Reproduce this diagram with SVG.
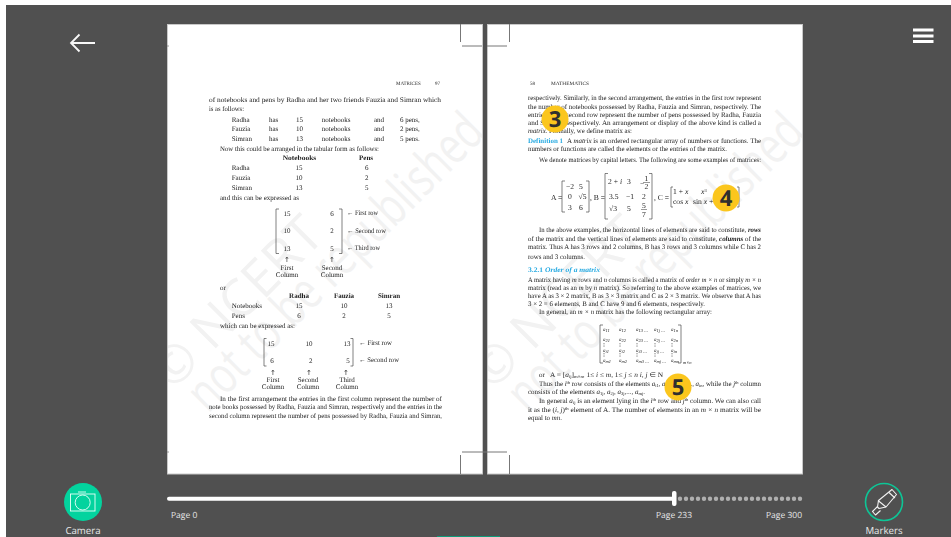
<svg xmlns="http://www.w3.org/2000/svg" width="951" height="537" viewBox="0 0 951 537">
<style>
text{text-rendering:geometricPrecision}
.t{font-family:"Liberation Serif",serif;font-size:7px;fill:#1c1c1c}
.mx{font-size:7.600px}
.b{font-weight:bold}
.i{font-style:italic}
.m{text-anchor:middle}
.h{font-family:"Liberation Serif",serif;font-weight:bold;font-size:7px;fill:#29abe2}
.s{font-size:4.500px}
.sm{font-size:5px}
.ar{font-family:"DejaVu Sans",sans-serif;font-size:7px}
.wm{font-family:"Open Sans","Liberation Sans",sans-serif;font-size:52px;fill:#f2f2f2}
.ui{font-family:"Open Sans","Liberation Sans",sans-serif;fill:#e8e8e8}
.num{font-family:"Open Sans","Noto Sans",sans-serif;font-weight:700;font-size:22px;fill:#2f2f2f;text-anchor:middle}
.badge{fill:#fbc61d}
.br{fill:none;stroke:#333;stroke-width:.6}
.mark{fill:none;stroke:#777;stroke-width:1}
.page{fill:#fff;stroke:#c8c8c8;stroke-width:1}
.dv{stroke:#444;stroke-width:.8;stroke-dasharray:.8 .9;fill:none}
</style>
<defs>
<filter id="soft" x="-5%" y="-5%" width="110%" height="110%"><feGaussianBlur stdDeviation="0.33"/></filter>
<clipPath id="pl"><rect x="168" y="25" width="314" height="449"/></clipPath>
<clipPath id="pr"><rect x="488" y="25" width="314" height="449"/></clipPath>
</defs>
<rect width="951" height="537" fill="#fff"/>
<rect x="6" y="5" width="945" height="532" fill="#505050"/>

<g id="back"><path d="M95 43H71.500M79.500 34.500L71 43L79.500 51.500" fill="none" stroke="#f8f8f8" stroke-width="1.800"/></g>
<g id="menu" fill="#fff"><rect x="913" y="28.500" width="20.500" height="3"/><rect x="913" y="34.500" width="20.500" height="3"/><rect x="913" y="40" width="20.500" height="3"/></g>

<g id="left-page">
<rect class="page" x="167.500" y="24.500" width="315" height="449.500"/>
<g clip-path="url(#pl)">
<text class="wm" transform="translate(172 392) rotate(-45)">© NCERT</text>
<text class="wm" transform="translate(208 414) rotate(-45)" textLength="395" lengthAdjust="spacingAndGlyphs">not to be republished</text>
</g>
<path class="mark" d="M460.500 24V42M462 46H482M462 452H487M460.500 455V474"/>
<path d="M167 46h2M167 452h2" stroke="#888" stroke-width=".8"/>
<g class="t" filter="url(#soft)">
<text class="sm" x="396" y="85">MATRICES</text><text class="sm" x="435" y="85">97</text>
<text x="209" y="101.500" textLength="232" lengthAdjust="spacingAndGlyphs">of notebooks and pens by Radha and her two friends Fauzia and Simran which</text>
<text x="209" y="111" textLength="35" lengthAdjust="spacingAndGlyphs">is as follows:</text>
<text x="231.700" y="121.500">Radha</text><text x="269" y="121.500">has</text><text x="296" y="121.500">15</text><text x="321.700" y="121.500">notebooks</text><text x="374" y="121.500">and</text><text x="400" y="121.500">6 pens,</text>
<text x="231.700" y="131">Fauzia</text><text x="269" y="131">has</text><text x="296" y="131">10</text><text x="321.700" y="131">notebooks</text><text x="374" y="131">and</text><text x="400" y="131">2 pens,</text>
<text x="231.700" y="141">Simran</text><text x="269" y="141">has</text><text x="296" y="141">13</text><text x="321.700" y="141">notebooks</text><text x="374" y="141">and</text><text x="400" y="141">5 pens.</text>
<text x="220" y="150.500" textLength="159" lengthAdjust="spacingAndGlyphs">Now this could be arranged in the tabular form as follows:</text>
<text class="b" x="282.700" y="160" textLength="33.500" lengthAdjust="spacingAndGlyphs">Notebooks</text><text class="b" x="359" y="160">Pens</text>
<text x="231.700" y="170">Radha</text><text class="m" x="299" y="170">15</text><text class="m" x="366.700" y="170">6</text>
<text x="231.700" y="180">Fauzia</text><text class="m" x="299" y="180">10</text><text class="m" x="366.700" y="180">2</text>
<text x="231.700" y="189.500">Simran</text><text class="m" x="299" y="189.500">13</text><text class="m" x="366.700" y="189.500">5</text>
<text x="220" y="199.500" textLength="79" lengthAdjust="spacingAndGlyphs">and this can be expressed as</text>
<path class="br" d="M279 209h-3v44.500h3M339 209h3v44.500h-3M266.500 338.500h-2.500v27.500h2.500M350.500 338.500h2.500v27.500h-2.500"/>
<text class="m" x="287" y="215.500">15</text><text class="m" x="332" y="215.500">6</text><text x="347" y="215" textLength="31" lengthAdjust="spacingAndGlyphs">← First row</text>
<text class="m" x="287" y="233">10</text><text class="m" x="332" y="233">2</text><text x="347" y="232.700" textLength="39" lengthAdjust="spacingAndGlyphs">← Second row</text>
<text class="m" x="287" y="250.500">13</text><text class="m" x="332" y="250.500">5</text><text x="347" y="250" textLength="33" lengthAdjust="spacingAndGlyphs">← Third row</text>
<text class="m ar" x="287" y="262">↑</text><text class="m ar" x="332" y="262">↑</text>
<text class="m" x="287" y="269.600">First</text><text class="m" x="332" y="269.600">Second</text>
<text class="m" x="287" y="276.700">Column</text><text class="m" x="332" y="276.700">Column</text>
<text x="220" y="289.500">or</text>
<text class="b m" x="299" y="297.700">Radha</text><text class="b m" x="344" y="297.700">Fauzia</text><text class="b m" x="389" y="297.700">Simran</text>
<text x="231.700" y="307.700">Notebooks</text><text class="m" x="299" y="307.700">15</text><text class="m" x="344" y="307.700">10</text><text class="m" x="389" y="307.700">13</text>
<text x="231.700" y="317.700">Pens</text><text class="m" x="299" y="317.700">6</text><text class="m" x="344" y="317.700">2</text><text class="m" x="389" y="317.700">5</text>
<text x="220" y="327.700" textLength="75" lengthAdjust="spacingAndGlyphs">which can be expressed as:</text>
<text class="m" x="271" y="345.500">15</text><text class="m" x="309" y="345.500">10</text><text class="m" x="347" y="345.500">13</text><text x="359" y="344.500" textLength="33" lengthAdjust="spacingAndGlyphs">← First row</text>
<text class="m" x="272" y="363">6</text><text class="m" x="310.700" y="363">2</text><text class="m" x="348" y="363">5</text><text x="359" y="362" textLength="40" lengthAdjust="spacingAndGlyphs">← Second row</text>
<text class="m ar" x="273" y="374.500">↑</text><text class="m ar" x="309" y="374.500">↑</text><text class="m ar" x="346" y="374.500">↑</text>
<text class="m" x="273" y="381.700">First</text><text class="m" x="308" y="381.700">Second</text><text class="m" x="347" y="381.700">Third</text>
<text class="m" x="273" y="389">Column</text><text class="m" x="308" y="389">Column</text><text class="m" x="347" y="389">Column</text>
<text x="220" y="400.700" textLength="222" lengthAdjust="spacingAndGlyphs">In the first arrangement the entries in the first column represent the number of</text>
<text x="209" y="409.300" textLength="233" lengthAdjust="spacingAndGlyphs">note books possessed by Radha, Fauzia and Simran, respectively and the entries in the</text>
<text x="209" y="417.700" textLength="233" lengthAdjust="spacingAndGlyphs">second column represent the number of pens possessed by Radha, Fauzia and Simran,</text>
</g>
</g>

<g id="right-page">
<rect class="page" x="487.500" y="24.500" width="315" height="449.500"/>
<g clip-path="url(#pr)">
<text class="wm" transform="translate(492 392) rotate(-45)">© NCERT</text>
<text class="wm" transform="translate(528 414) rotate(-45)" textLength="395" lengthAdjust="spacingAndGlyphs">not to be republished</text>
</g>
<path class="mark" d="M509.500 24V42M487 46H507M487 452H507M509.500 455V474"/>
<g class="t" filter="url(#soft)">
<text class="sm" x="530" y="85">58</text><text class="sm" x="551" y="85" textLength="38" lengthAdjust="spacingAndGlyphs">MATHEMATICS</text>
<text x="528" y="100.300" textLength="233" lengthAdjust="spacingAndGlyphs">respectively. Similarly, in the second arrangement, the entries in the first row represent</text>
<text x="528" y="108.500" textLength="233" lengthAdjust="spacingAndGlyphs">the number of notebooks possessed by Radha, Fauzia and Simran, respectively. The</text>
<text x="528" y="116.700" textLength="233" lengthAdjust="spacingAndGlyphs">entries in the second row represent the number of pens possessed by Radha, Fauzia</text>
<text x="528" y="125" textLength="233" lengthAdjust="spacingAndGlyphs">and Simran, respectively. An arrangement or display of the above kind is called a</text>
<text x="528" y="133" textLength="104" lengthAdjust="spacingAndGlyphs"><tspan class="i">matrix</tspan>. Formally, we define matrix as:</text>
<text class="h" x="528" y="142.700" textLength="35" lengthAdjust="spacingAndGlyphs">Definition 1</text>
<text x="567" y="142.700" textLength="194" lengthAdjust="spacingAndGlyphs">A <tspan class="i">matrix</tspan> is an ordered rectangular array of numbers or functions. The</text>
<text x="528" y="151" textLength="199" lengthAdjust="spacingAndGlyphs">numbers or functions are called the elements or the entries of the matrix.</text>
<text x="539" y="161.700" textLength="222" lengthAdjust="spacingAndGlyphs">We denote matrices by capital letters. The following are some examples of matrices:</text>

<g class="mx">
<text x="551" y="199.500">A =</text>
<path class="br" d="M565 181h-3v31h3M586 181h3v31h-3"/>
<text class="m" x="570" y="188.500">−2</text><text class="m" x="581" y="188.500">5</text>
<text class="m" x="570" y="199">0</text><text class="m" x="582.500" y="199">√5</text>
<text class="m" x="570" y="210">3</text><text class="m" x="581" y="210">6</text>
<text x="590" y="199.500">, B =</text>
<path class="br" d="M608 173.500h-3v45.500h3M649 173.500h3v45.500h-3"/>
<text x="608" y="184">2 + <tspan class="i">i</tspan></text><text class="m" x="629" y="184">3</text><text x="640" y="185.500">−</text><text class="m" x="646.500" y="180.500">1</text><path d="M643 182.500h7" stroke="#333" stroke-width=".5"/><text class="m" x="646.500" y="189">2</text>
<text x="609" y="199">3.5</text><text class="m" x="630" y="199">−1</text><text class="m" x="644" y="199">2</text>
<text x="609" y="211">√3</text><text class="m" x="629" y="211">5</text><text class="m" x="644" y="208">5</text><path d="M641 209.500h6" stroke="#333" stroke-width=".5"/><text class="m" x="644" y="216.500">7</text>
<text x="654" y="199.500">, C =</text>
<path class="br" d="M673 187h-2v20h2M737 187h2v20h-2"/>
<text x="673" y="193.500">1 + <tspan class="i">x</tspan></text><text x="701" y="193.500"><tspan class="i">x</tspan><tspan class="s" dy="-2">3</tspan></text>
<text x="673" y="203.500">cos <tspan class="i">x</tspan></text><text x="693" y="203.500">sin <tspan class="i">x</tspan> + 1</text>
</g>

<text x="539" y="232.300" textLength="222" lengthAdjust="spacingAndGlyphs">In the above examples, the horizontal lines of elements are said to constitute, <tspan class="b i">rows</tspan></text>
<text x="528" y="240.700" textLength="233" lengthAdjust="spacingAndGlyphs">of the matrix and the vertical lines of elements are said to constitute, <tspan class="b i">columns</tspan> of the</text>
<text x="528" y="249" textLength="233" lengthAdjust="spacingAndGlyphs">matrix. Thus A has 3 rows and 2 columns, B has 3 rows and 3 columns while C has 2</text>
<text x="528" y="259.300" textLength="57" lengthAdjust="spacingAndGlyphs">rows and 3 columns.</text>
<text class="h" x="528" y="271.700" textLength="72" lengthAdjust="spacingAndGlyphs">3.2.1  <tspan class="i">Order of a matrix</tspan></text>
<text x="528" y="281.700" textLength="233" lengthAdjust="spacingAndGlyphs">A matrix having <tspan class="i">m</tspan> rows and <tspan class="i">n</tspan> columns is called a matrix of <tspan class="i">order m × n</tspan> or simply <tspan class="i">m × n</tspan></text>
<text x="528" y="290" textLength="233" lengthAdjust="spacingAndGlyphs">matrix (read as an <tspan class="i">m</tspan> by <tspan class="i">n</tspan> matrix). So referring to the above examples of matrices, we</text>
<text x="528" y="298" textLength="233" lengthAdjust="spacingAndGlyphs">have A as 3 × 2 matrix, B as 3 × 3 matrix and C as 2 × 3 matrix. We observe that A has</text>
<text x="528" y="305.500" textLength="177" lengthAdjust="spacingAndGlyphs">3 × 2 = 6 elements, B and C have 9 and 6 elements, respectively.</text>
<text x="539" y="314.300" textLength="173" lengthAdjust="spacingAndGlyphs">In general, an <tspan class="i">m × n</tspan> matrix has the following rectangular array:</text>

<path class="br" d="M603 325h-3v38h3M678 325h3v38h-3"/>
<g class="sm i">
<text x="603" y="330.500">a<tspan class="s" dy="1">11</tspan></text><text x="619" y="330.500">a<tspan class="s" dy="1">12</tspan></text><text x="636" y="330.500">a<tspan class="s" dy="1">13</tspan> ...</text><text x="654" y="330.500">a<tspan class="s" dy="1">1j</tspan> ...</text><text x="671" y="330.500">a<tspan class="s" dy="1">1n</tspan></text>
<text x="603" y="341">a<tspan class="s" dy="1">21</tspan></text><text x="619" y="341">a<tspan class="s" dy="1">22</tspan></text><text x="636" y="341">a<tspan class="s" dy="1">23</tspan> ...</text><text x="654" y="341">a<tspan class="s" dy="1">2j</tspan> ...</text><text x="671" y="341">a<tspan class="s" dy="1">2n</tspan></text>
<text x="603" y="351.500">a<tspan class="s" dy="1">i1</tspan></text><text x="619" y="351.500">a<tspan class="s" dy="1">i2</tspan></text><text x="636" y="351.500">a<tspan class="s" dy="1">i3</tspan> ...</text><text x="654" y="351.500">a<tspan class="s" dy="1">ij</tspan> ...</text><text x="671" y="351.500">a<tspan class="s" dy="1">in</tspan></text>
<text x="603" y="361.500">a<tspan class="s" dy="1">m1</tspan></text><text x="619" y="361.500">a<tspan class="s" dy="1">m2</tspan></text><text x="636" y="361.500">a<tspan class="s" dy="1">m3</tspan> ...</text><text x="654" y="361.500">a<tspan class="s" dy="1">mj</tspan> ...</text><text x="671" y="361.500">a<tspan class="s" dy="1">mn</tspan></text>
<text class="s" x="683" y="364">m×n</text>
</g>
<path class="dv" d="M604 343v4M604 353v4M620 343v4M620 353v4M637 343v4M637 353v4M655 343v4M655 353v4M672 343v4M672 353v4"/>

<text x="539" y="376.700">or</text>
<text x="550" y="376.700" textLength="113" lengthAdjust="spacingAndGlyphs">A = [<tspan class="i">a</tspan><tspan class="s" dy="1">ij</tspan><tspan dy="-1">]</tspan><tspan class="s" dy="1">m×n</tspan><tspan dy="-1">, 1≤ <tspan class="i">i</tspan> ≤ <tspan class="i">m</tspan>, 1≤ <tspan class="i">j</tspan> ≤ <tspan class="i">n</tspan>  <tspan class="i">i, j</tspan> ∈ N</tspan></text>
<text x="539" y="386" textLength="222" lengthAdjust="spacingAndGlyphs">Thus the <tspan class="i">i</tspan><tspan class="s" dy="-2">th</tspan><tspan dy="2"> row consists of the elements <tspan class="i">a</tspan></tspan><tspan class="s" dy="1">i1</tspan><tspan dy="-1">, <tspan class="i">a</tspan></tspan><tspan class="s" dy="1">i2</tspan><tspan dy="-1">,..., <tspan class="i">a</tspan></tspan><tspan class="s" dy="1">ij</tspan><tspan dy="-1">,..., <tspan class="i">a</tspan></tspan><tspan class="s" dy="1">in</tspan><tspan dy="-1">, while the <tspan class="i">j</tspan></tspan><tspan class="s" dy="-2">th</tspan><tspan dy="2"> column</tspan></text>
<text x="528" y="394.300" textLength="117" lengthAdjust="spacingAndGlyphs">consists of the elements <tspan class="i">a</tspan><tspan class="s" dy="1">1j</tspan><tspan dy="-1">, <tspan class="i">a</tspan></tspan><tspan class="s" dy="1">2j</tspan><tspan dy="-1">, <tspan class="i">a</tspan></tspan><tspan class="s" dy="1">3j</tspan><tspan dy="-1">,..., <tspan class="i">a</tspan></tspan><tspan class="s" dy="1">mj</tspan><tspan dy="-1">.</tspan></text>
<text x="539" y="403.300" textLength="222" lengthAdjust="spacingAndGlyphs">In general <tspan class="i">a</tspan><tspan class="s" dy="1">ij</tspan><tspan dy="-1"> is an element lying in the <tspan class="i">i</tspan></tspan><tspan class="s" dy="-2">th</tspan><tspan dy="2"> row and <tspan class="i">j</tspan></tspan><tspan class="s" dy="-2">th</tspan><tspan dy="2"> column. We can also call</tspan></text>
<text x="528" y="411.700" textLength="233" lengthAdjust="spacingAndGlyphs">it as the (<tspan class="i">i, j</tspan>)<tspan class="s" dy="-2">th</tspan><tspan dy="2"> element of A. The number of elements in an <tspan class="i">m × n</tspan> matrix will be</tspan></text>
<text x="528" y="420" textLength="34" lengthAdjust="spacingAndGlyphs">equal to <tspan class="i">mn</tspan>.</text>
</g>
</g>

<g id="badge-3"><circle class="badge" cx="555" cy="119" r="13.500"/><text class="num" x="555" y="127">3</text></g>
<g id="badge-4"><circle class="badge" cx="726" cy="198" r="13.500"/><text class="num" x="726" y="206">4</text></g>
<g id="badge-5"><circle class="badge" cx="678" cy="387" r="13.500"/><text class="num" x="678" y="395">5</text></g>

<g id="slider">
<path d="M169 498.700H674" stroke="#fff" stroke-width="4" stroke-linecap="round"/>
<rect x="672" y="491" width="4.500" height="15" rx="2" fill="#fff"/>
<path d="M680 498.700H801" stroke="#b0b0b0" stroke-width="4.400" stroke-linecap="round" stroke-dasharray="0 6"/>
<text class="ui" x="171" y="517.500" font-size="8.500">Page 0</text>
<text class="ui" x="674" y="517.500" font-size="8.500" text-anchor="middle">Page 233</text>
<text class="ui" x="802" y="517.500" font-size="8.500" text-anchor="end">Page 300</text>
</g>

<g id="camera">
<circle cx="83" cy="502" r="19" fill="#03d39e"/>
<g fill="none" stroke="#e8fff8" stroke-width=".9"><rect x="70.500" y="494" width="24.500" height="17"/><circle cx="82.700" cy="502.500" r="7.500"/><path d="M78 492h8"/></g>
<text class="ui" x="83" y="534" font-size="9.700" text-anchor="middle">Camera</text>
</g>

<g id="markers">
<circle cx="884" cy="502" r="18.500" fill="none" stroke="#0dc596" stroke-width="1.600"/>
<g fill="none" stroke="#f2f2f2" stroke-width="1.100" stroke-linejoin="round"><path d="M892 489.500l4.500 5-10.500 12.500-7 1.500-1.500-1.500 1-6.500z"/><path d="M878 500.500l8 6.500M889 492.500l6 5.500"/><path d="M877.500 506.500l-5 5 3 3.500 5-4.500"/></g>
<text class="ui" x="884" y="534" font-size="9.700" text-anchor="middle">Markers</text>
</g>

<rect id="bottom-strip" x="437" y="536" width="63" height="1" fill="#0f9b7a"/>
</svg>
